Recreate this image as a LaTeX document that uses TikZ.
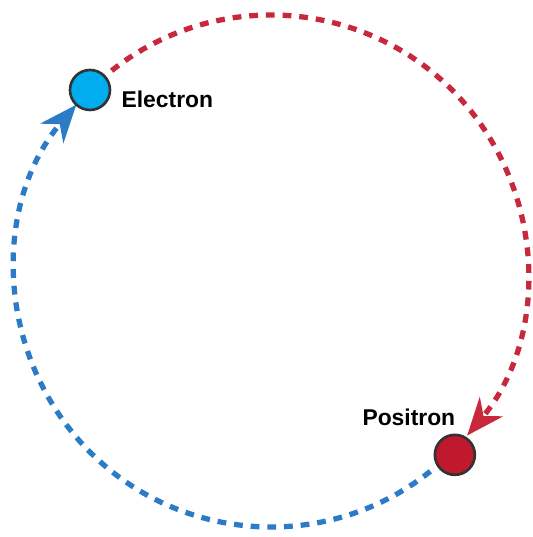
\documentclass[tikz,border=0pt]{standalone}
\usepackage{fontspec}
\setsansfont{Liberation Sans}
\usetikzlibrary{arrows.meta, math, calc}

\definecolor{eblue}{HTML}{00AEEF}
\definecolor{pred}{HTML}{C0192E}
\definecolor{pathred}{HTML}{C8283C}
\definecolor{pathblue}{HTML}{2C7BC6}

\tikzset{
particle/.style={circle, draw=black!80, line width=1.5pt, minimum size=0.8cm, inner sep=0pt},
orbit/.style={line width=3pt, dash pattern=on 5pt off 4.5pt},
tag/.style={font=\sffamily\bfseries\fontsize{13}{15}\selectfont, inner sep=0pt}
}

\begin{document}
\begin{tikzpicture}
\tikzmath{
\R=5.12;
\a=128.5;
\b=-40;
\c=-51.5;
\d=-220.5;
}
\useasboundingbox (0,0) rectangle (10.64,10.74);

\coordinate (C) at (5.42,5.32);

% red half: electron -> positron
\draw[orbit, pathred, -{Stealth[length=0.75cm, width=0.6cm, inset=0.24cm, sep=0pt]}]
  ($(C)+(\a:\R)$) arc[start angle=\a, end angle=\b, radius=\R];
% blue half: positron -> electron
\draw[orbit, pathblue, -{Stealth[length=0.75cm, width=0.6cm, inset=0.24cm, sep=0pt]}]
  ($(C)+(\c:\R)$) arc[start angle=\c, end angle=\d, radius=\R];

\node[particle, fill=eblue] (electron) at ($(C)+(135:\R)$) {};
\node[particle, fill=pred] (positron) at ($(C)+(-45:5.2)$) {};

\node[tag, anchor=west] (elabel) at ($(electron.east)+(0.2,-0.18)$) {Electron};
\node[tag] (plabel) at ($(positron)+(-0.92,0.76)$) {Positron};
\end{tikzpicture}
\end{document}
